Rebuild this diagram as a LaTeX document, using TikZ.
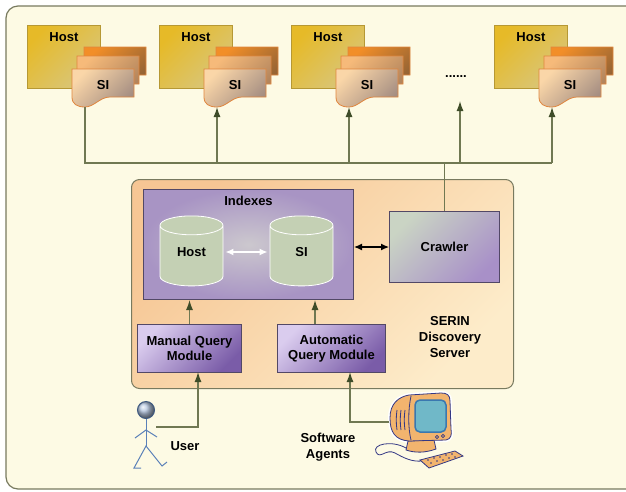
\documentclass[tikz,border=0pt]{standalone}
\usepackage{fontspec}
\setmainfont{Liberation Sans}
\usepackage{tikz}
\usetikzlibrary{arrows.meta}
\usetikzlibrary{shapes.geometric}
\usepackage{color}
\definecolor{cream}{RGB}{253, 250, 228}
\definecolor{framecol}{RGB}{120, 122, 95}
\definecolor{hostA}{RGB}{230, 186, 40}
\definecolor{hostB}{RGB}{216, 198, 125}
\definecolor{hostedge}{RGB}{182, 152, 52}
\definecolor{sifrontA}{RGB}{250, 214, 168}
\definecolor{sifrontB}{RGB}{165, 142, 130}
\definecolor{simidA}{RGB}{246, 186, 122}
\definecolor{simidB}{RGB}{178, 132, 92}
\definecolor{sibackA}{RGB}{242, 142, 40}
\definecolor{sibackB}{RGB}{150, 100, 52}
\definecolor{siedge}{RGB}{224, 134, 62}
\definecolor{wirecol}{RGB}{112, 120, 82}
\definecolor{tipcol}{RGB}{62, 76, 40}
\definecolor{serverA}{RGB}{246, 198, 148}
\definecolor{serverB}{RGB}{253, 236, 202}
\definecolor{idxout}{RGB}{168, 148, 196}
\definecolor{idxin}{RGB}{204, 200, 206}
\definecolor{idxedge}{RGB}{82, 72, 102}
\definecolor{cylcol}{RGB}{196, 208, 180}
\definecolor{crawlA}{RGB}{202, 212, 196}
\definecolor{crawlB}{RGB}{168, 144, 200}
\definecolor{modA}{RGB}{218, 204, 238}
\definecolor{modB}{RGB}{122, 92, 168}
\definecolor{userblue}{RGB}{90, 128, 184}
\definecolor{pcorange}{RGB}{242, 180, 110}
\definecolor{pcline}{RGB}{52, 56, 132}
\definecolor{pcscreen}{RGB}{112, 184, 200}
\definecolor{pcscreenedge}{RGB}{58, 120, 176}

\tikzset{
  lbl/.style={font=\fontsize{13}{15.5}\selectfont\bfseries, text=black, inner sep=1pt},
  diag/.style 2 args={top color=#1, bottom color=#2, shading angle=45},
  wire/.style={draw=wirecol, line width=1.3pt},
  up/.style={wire, -{Latex[length=10pt, width=7pt, color=tipcol]}},
  hostbox/.style={rectangle, anchor=north west, diag={hostA}{hostB}, draw=hostedge,
                  line width=0.8pt, minimum width=73pt, minimum height=63pt},
  sheet/.style 2 args={diag={#1}{#2}, draw=siedge, line width=0.8pt},
  serverbox/.style={rectangle, anchor=north west, rounded corners=8pt, diag={serverA}{serverB},
                    draw=framecol, line width=1pt, minimum width=382pt, minimum height=209pt},
  idxbox/.style={rectangle, anchor=north west, inner color=idxin, outer color=idxout,
                 draw=idxedge, line width=1pt, minimum width=210pt, minimum height=110pt},
  cyl/.style={cylinder, shape border rotate=90, aspect=0.45, fill=cylcol, draw=white,
              line width=0.8pt, text width=40pt, align=center, minimum width=63pt,
              minimum height=70pt, lbl},
  crawlbox/.style={rectangle, anchor=north west, diag={crawlA}{crawlB}, draw=idxedge,
                   line width=1pt, minimum width=110pt, minimum height=71pt, lbl},
  modbox/.style={rectangle, anchor=north west, diag={modA}{modB}, draw=idxedge,
                 line width=1pt, minimum height=48pt, align=center, lbl},
  sistack/.pic={
    \foreach \dx/\dy/\ca/\cb in {12/-22/sibackA/sibackB, 5/-13/simidA/simidB, 0/0/sifrontA/sifrontB}
      \path[sheet={\ca}{\cb}, shift={(\dx,\dy)}]
        (0,0) -- (62,0) -- (62,28) -- (38,28) .. controls (28,28) and (22,38) .. (13,38)
        .. controls (5,38) and (0,35) .. (0,28) -- cycle;
    \node[lbl] at (31,16) {SI};
    \coordinate (-bot) at (13,38);
  }
}
\newcommand\cyltext[1]{\raisebox{5pt}[\height][\depth]{#1}}

\begin{document}
\begin{tikzpicture}[x=1pt, y=-1pt]
  \clip (0,0) rectangle (626,491);
  \fill[white] (0,0) rectangle (626,491);
  \draw[fill=cream, draw=framecol, line width=1.2pt, rounded corners=12pt] (6,6) rectangle (660,489);

  % hosts with their SI documents
  \foreach \i/\x in {1/27, 2/159, 3/291, 4/494} {
    \node[hostbox, label={[lbl, anchor=north, inner sep=7pt]north:Host}] (host\i) at (\x,25) {};
    \pic (si\i) at (\x+45,69) {sistack};
  }
  \node[lbl] (dots) at (456,77) {......};
  \coordinate (more) at (460,101);
  \coordinate (busy) at (0,163);

  % discovery server
  \node[serverbox] (server) at (131,179) {};
  \node[idxbox, label={[lbl, anchor=north, inner sep=7pt]north:Indexes}] (idx) at (143,189) {};
  \node[cyl] (hostdb) at (191.5,257) {\cyltext{Host}};
  \node[cyl] (sidb)   at (301.5,257) {\cyltext{SI}};
  \node[crawlbox] (crawler) at (389,211) {Crawler};
  \node[modbox, minimum width=104pt] (manual) at (137,324) {Manual Query\\Module};
  \node[modbox, minimum width=108pt] (auto)   at (277,324) {Automatic\\Query Module};
  \node[lbl, align=center, font=\fontsize{13}{16}\selectfont\bfseries] (serin) at (450,337) {SERIN\\Discovery\\Server};

  \draw[white, line width=1.5pt, {Latex[length=8pt, width=7pt]}-{Latex[length=8pt, width=7pt]}]
    ([shift={(2pt,5pt)}]hostdb.east) -- ([shift={(-2pt,5pt)}]sidb.west);
  \draw[black, line width=1.2pt, {Latex[length=8pt, width=7pt]}-{Latex[length=8pt, width=7pt]}]
    (crawler.west -| idx.east) -- (crawler.west);

  % crawler to the hosts
  \draw[wire] (si1-bot) -- (si1-bot |- busy) -- (si4-bot |- busy);
  \foreach \n in {2,3,4}
    \draw[up] (si\n-bot |- busy) -- (si\n-bot);
  \draw[up] (more |- busy) -- (more);
  \draw[wire] (crawler.north) -- (crawler.north |- busy);

  % query modules
  \coordinate (aq) at (315,324);
  \draw[up] (manual.north) -- (manual.north |- idx.south);
  \draw[up] (aq) -- (aq |- idx.south);

  % user
  \begin{scope}[draw=userblue, line width=1pt]
    \draw (146,418) -- (146,446);
    \draw (135,438) -- (146,430) -- (157,437);
    \draw (141,468) -- (134,468) -- (146,446) -- (162,466) -- (167,462);
    \shade[ball color=userblue!45!white, draw=userblue!70!black] (146,410) circle (8.5);
  \end{scope}
  \coordinate (user) at (156,427);
  \coordinate (uq) at (198,372);
  \draw[up] (user) -| (uq);
  \node[lbl] (userlbl) at (185,446) {User};

  % software agents
  \begin{scope}[draw=pcline, line width=0.8pt]
    \draw[white, line width=4pt, line join=round]
      (409,395) .. controls (398,397) and (390,404) .. (390,418) .. controls (390,432) and (395,440) .. (409,441)
      -- (446,440) .. controls (451,439) and (452,435) .. (451,429) -- (450,401)
      .. controls (450,395) and (447,393) .. (441,393) -- cycle;
    \draw (406,448) .. controls (392,440) and (372,444) .. (376,452) .. controls (380,460) and (386,448) .. (395,453)
      .. controls (404,458) and (412,462) .. (422,461);
    \filldraw[fill=pcorange] (408,441) -- (434,440) -- (436,449) .. controls (425,453) and (415,453) .. (406,450) -- cycle;
    \filldraw[fill=pcorange]
      (409,395) .. controls (398,397) and (390,404) .. (390,418) .. controls (390,432) and (395,440) .. (409,441)
      -- (446,440) .. controls (451,439) and (452,435) .. (451,429) -- (450,401)
      .. controls (450,395) and (447,393) .. (441,393) -- cycle;
    \draw (411,396) .. controls (408,410) and (408,428) .. (411,440);
    \foreach \vx in {397,401,405}
      \draw (\vx,410) .. controls (\vx-1,417) and (\vx-1,423) .. (\vx,430);
    \filldraw[fill=pcscreen, draw=pcscreenedge, line width=1.5pt, rounded corners=5pt] (415,400) rectangle (446,432);
    \draw (437,437) circle (1.6) (443,436) circle (1.6);
    \filldraw[fill=pcorange] (420,460) -- (455,451) -- (463,456) -- (429,468) -- cycle;
    \foreach \kx/\ky in {428/460, 434/458, 440/457, 446/455, 452/454, 431/463, 437/461, 443/460, 449/458, 455/457}
      \fill[pcline] (\kx,\ky) circle (0.9);
  \end{scope}
  \coordinate (pc) at (389,422);
  \coordinate (sq) at (350,372);
  \draw[up] (pc) -| (sq);
  \node[lbl, align=center] (agentlbl) at (328,447) {Software\\Agents};
\end{tikzpicture}
\end{document}
